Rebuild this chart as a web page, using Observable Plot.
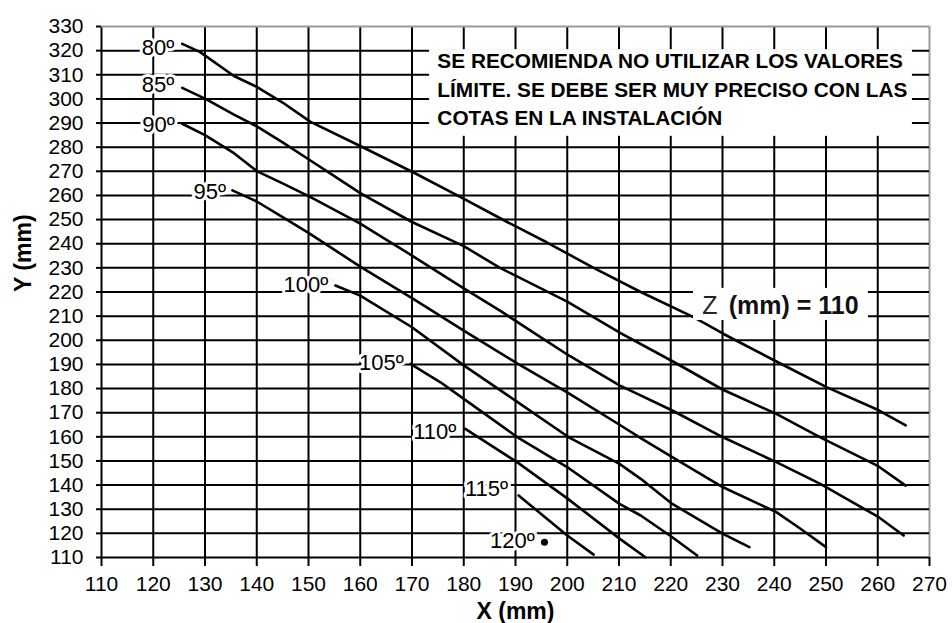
<!DOCTYPE html>
<html>
<head>
<meta charset="utf-8">
<script src="https://cdn.jsdelivr.net/npm/d3@7"></script>
<script src="https://cdn.jsdelivr.net/npm/@observablehq/plot@0.6"></script>
<style>
  body { margin: 0; background: #fff; }
  #chart svg { display: block; }
</style>
</head>
<body>
<div id="chart"></div>
<script>
// ---------- data ----------
const xTicks = [110, 120, 130, 140, 150, 160, 170, 180, 190, 200, 210, 220, 230, 240, 250, 260, 270];
const yTicks = [110, 120, 130, 140, 150, 160, 170, 180, 190, 200, 210, 220, 230, 240, 250, 260, 270, 280, 290, 300, 310, 320, 330];

const c80 = [[125.6,322.8],[129,319.5],[135.6,309.5],[140,305],[145,298.5],[150.4,290.5],[160,280.5],[170.3,269.5],[179.4,259.3],[188.4,249],[196.1,240.5],[205.1,230],[214.2,220],[224.5,209.5],[230.3,202.5],[240.6,191],[250.2,180.5],[260.2,171],[265.4,164.7]];
const c85 = [[125.6,304.6],[130.1,300],[135.6,293.5],[140.1,288.5],[145,282],[150,275],[155,268],[160,261],[170,249],[180,239],[187,230],[200,216],[210.3,203],[220.6,191],[230.1,179.5],[240.4,169.5],[248.9,159.8],[259.9,148.1],[265.4,139.8]];
const c90 = [[125.6,289.7],[130,285],[135.6,277.5],[140.1,270],[145,265],[150.4,259.3],[160,248.3],[170,235.1],[180,221.5],[187,212.3],[192.9,204],[200.3,193.7],[210.1,181.3],[220.3,170.9],[230.1,159.8],[240.4,149.5],[248.9,140.5],[260.2,126.7],[265,119.1]];
const c95 = [[135.3,262.1],[140,257.5],[145,251],[150,244.5],[160,230.5],[170,217.5],[180,204],[190.4,190.3],[200.3,178],[210.1,165],[214.2,159.5],[220.3,151.6],[230.1,139.1],[240.4,128.8],[245,122],[250,114.3]];
const c100 = [[155.2,222.7],[160,218.5],[170,205.4],[180,189.6],[190.4,174.4],[200.3,159.8],[210.1,148.8],[214.2,142.6],[220.3,132.2],[230.1,119.8],[235.2,114.3]];
const c105 = [[169.7,190.2],[175.5,182.6],[180,175.7],[190.4,159.8],[200.3,147],[210.1,132.2],[214.2,127.4],[220.3,118.4],[225.1,110.8]];
const c110 = [[180.3,163.3],[190.3,149.5],[200,134.5],[210.3,117.5],[215.1,110.1]];
const c115 = [[190.6,135.7],[200,119.1],[205.1,111.2]];
const point120 = [[195.6,116.3]];

const seriesNames = ["80º", "85º", "90º", "95º", "100º", "105º", "110º", "115º"];
const seriesData = [c80, c85, c90, c95, c100, c105, c110, c115];

const labelNames = ["80º", "85º", "90º", "95º", "100º", "105º", "110º", "115º", "120º"];
const labelX = [120.9, 120.9, 121.0, 130.9, 149.5, 164.1, 174.4, 184.4, 189.4];
const labelY = [321.1, 305.6, 289.4, 261.4, 223.1, 190.8, 161.9, 138.6, 117.0];

const noteText = "SE RECOMIENDA NO UTILIZAR LOS VALORES\nLÍMITE. SE DEBE SER MUY PRECISO CON LAS\nCOTAS EN LA INSTALACIÓN";
const zName = "Z";
const zValue = "(mm) = 110";
const xTitle = "X (mm)";
const yTitle = "Y (mm)";

// ---------- tables built from the arrays ----------
const rows = seriesNames.flatMap((name, i) => seriesData[i].map(([x, y]) => ({angle: name, x, y})));
const labels = labelNames.map((t, i) => ({t, x: labelX[i], y: labelY[i]}));

const FONT = "'Liberation Sans', Arial, sans-serif";

const chart = Plot.plot({
  width: 952,
  height: 623,
  marginLeft: 101,
  marginRight: 23,
  marginTop: 26,
  marginBottom: 66,
  x: {domain: [110, 270]},
  y: {domain: [110, 330]},
  style: {fontFamily: FONT, background: "white", color: "black"},
  marks: [
    // grid
    Plot.ruleX(xTicks.filter(d => d !== 270), {stroke: "black", strokeWidth: 2}),
    Plot.ruleX(xTicks.filter(d => d === 270), {stroke: "#9a9a9a", strokeWidth: 2}),
    Plot.ruleY(yTicks.filter(d => d !== 330), {stroke: "black", strokeWidth: 2}),
    Plot.ruleY(yTicks.filter(d => d === 330), {stroke: "#9a9a9a", strokeWidth: 2}),
    // axes
    Plot.axisX({ticks: xTicks, tickSize: 9, tickPadding: 10, fontSize: 21, stroke: "black", strokeWidth: 2, label: null, tickFormat: d => String(d)}),
    Plot.axisY({ticks: yTicks, tickSize: 5, tickPadding: 13, fontSize: 21, stroke: "black", strokeWidth: 2, label: null, tickFormat: d => String(d)}),
    // curves
    Plot.line(rows, {x: "x", y: "y", z: "angle", stroke: "black", strokeWidth: 2.6}),
    Plot.dot(point120, {x: d => d[0], y: d => d[1], r: 3.5, fill: "black", stroke: null}),
    // annotation boxes
    Plot.rect([noteText], {x1: 173.4, x2: 266.7, y1: 284.5, y2: 320.4, fill: "white"}),
    Plot.rect([zValue], {x1: 224.4, x2: 258.2, y1: 208.2, y2: 221.5, fill: "white"}),
    // curve labels
    Plot.text(labels, {x: "x", y: "y", text: "t", fontSize: 22, fill: "black", stroke: "white", strokeWidth: 6, textAnchor: "middle", lineAnchor: "middle"}),
    // note
    Plot.text([noteText], {x: 174.9, y: 321.1, text: d => d, textAnchor: "start", lineAnchor: "top", fontSize: 20.8, fontWeight: "bold", lineHeight: 1.37, fill: "black"}),
    Plot.text([zName], {x: 226.1, y: 214, text: d => d, textAnchor: "start", lineAnchor: "middle", fontSize: 25, fill: "#222"}),
    Plot.text([zValue], {x: 231.2, y: 214, text: d => d, textAnchor: "start", lineAnchor: "middle", fontSize: 25, fontWeight: "bold", fill: "#111"}),
    // axis titles
    Plot.text([xTitle], {frameAnchor: "bottom", dy: 54, text: d => d, fontSize: 23, fontWeight: "bold", lineAnchor: "middle"}),
    Plot.text([yTitle], {frameAnchor: "left", dx: -78, rotate: -90, text: d => d, fontSize: 23, fontWeight: "bold", lineAnchor: "middle"})
  ]
});
document.getElementById("chart").appendChild(chart);
</script>
</body>
</html>
